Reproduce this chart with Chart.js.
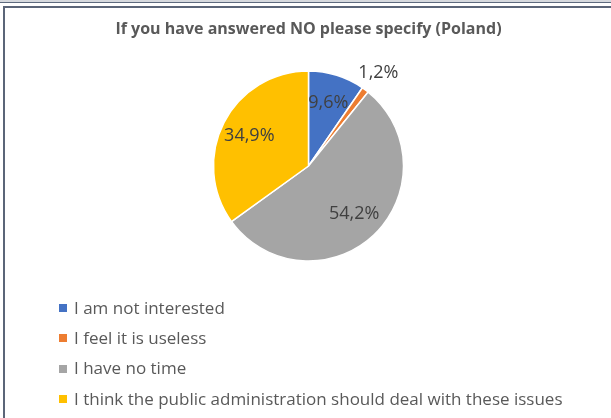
<!DOCTYPE html>
<html>
<head>
<meta charset="utf-8">
<script src="https://cdn.jsdelivr.net/npm/chart.js@4/dist/chart.umd.min.js"></script>
<style>
  html, body { margin: 0; padding: 0; background: #ffffff; }
  #wrap { position: relative; width: 611px; height: 418px; overflow: hidden; background: #fff; }
  #topband { position: absolute; left: 0; top: 0; width: 611px; height: 2px; background: #d6d9de; }
  #topline { position: absolute; left: 0; top: 2px; width: 611px; height: 1px; background: #5d6a7e; }
  #box { position: absolute; left: 3px; top: 6px; width: 700px; height: 500px; border-left: 2px solid #5b6578; border-top: 2px solid #5b6578; box-sizing: border-box; }
  canvas { position: absolute; left: 0; top: 0; }
</style>
</head>
<body>
<div id="wrap">
  <div id="topband"></div>
  <div id="topline"></div>
  <div id="box"></div>
  <canvas id="c" width="611" height="418"></canvas>
</div>
<script>
const categories = [
  "I am not interested",
  "I feel it is useless",
  "I have no time",
  "I think the public administration should deal with these issues"
];
const values = [9.6, 1.2, 54.2, 34.9];
const valueLabels = ["9,6%", "1,2%", "54,2%", "34,9%"];
const colors = ["#4472C4", "#ED7D31", "#A5A5A5", "#FFC000"];
const chartTitle = "If you have answered NO please specify (Poland)";

const labelPlugin = {
  id: "sliceLabels",
  afterDatasetsDraw(chart) {
    const ctx = chart.ctx;
    const meta = chart.getDatasetMeta(0);
    const total = values.reduce((a, b) => a + b, 0);
    ctx.save();
    ctx.font = "18px 'Open Sans'";
    ctx.fillStyle = "#404040";
    ctx.textAlign = "center";
    ctx.textBaseline = "middle";
    meta.data.forEach((arc, i) => {
      const p = arc.getProps(["x", "y", "startAngle", "endAngle", "outerRadius"], true);
      const mid = (p.startAngle + p.endAngle) / 2;
      const share = values[i] / total;
      const f = share < 0.05 ? 1.23 : 0.7;
      const r = p.outerRadius * f;
      ctx.fillText(valueLabels[i], p.x + Math.cos(mid) * r, p.y + Math.sin(mid) * r);
    });
    ctx.restore();
  }
};

const legendPlugin = {
  id: "listLegend",
  afterDraw(chart) {
    const ctx = chart.ctx;
    const ds = chart.data.datasets[0];
    ctx.save();
    ctx.font = "17px 'Open Sans'";
    ctx.textBaseline = "middle";
    ctx.textAlign = "left";
    chart.data.labels.forEach((lab, i) => {
      const y = 308 + i * 30.3;
      ctx.fillStyle = ds.backgroundColor[i];
      ctx.fillRect(59, Math.round(y - 4), 8, 8);
      ctx.fillStyle = "#595959";
      ctx.fillText(lab, 74, y + 1);
    });
    ctx.restore();
  }
};

new Chart(document.getElementById("c"), {
  type: "pie",
  data: {
    labels: categories,
    datasets: [{
      data: values,
      backgroundColor: colors,
      borderColor: "#ffffff",
      borderWidth: 1.5,
      radius: 95
    }]
  },
  options: {
    responsive: false,
    animation: false,
    devicePixelRatio: 1,
    layout: { padding: { top: 0, bottom: 157, left: 6, right: 0 } },
    plugins: {
      legend: { display: false },
      tooltip: { enabled: false },
      title: {
        display: true,
        text: chartTitle,
        color: "#595959",
        font: { family: "'Open Sans'", size: 16, weight: "bold", lineHeight: 1.2 },
        padding: { top: 20, bottom: 31.8 }
      }
    }
  },
  plugins: [labelPlugin, legendPlugin]
});
</script>
</body>
</html>
